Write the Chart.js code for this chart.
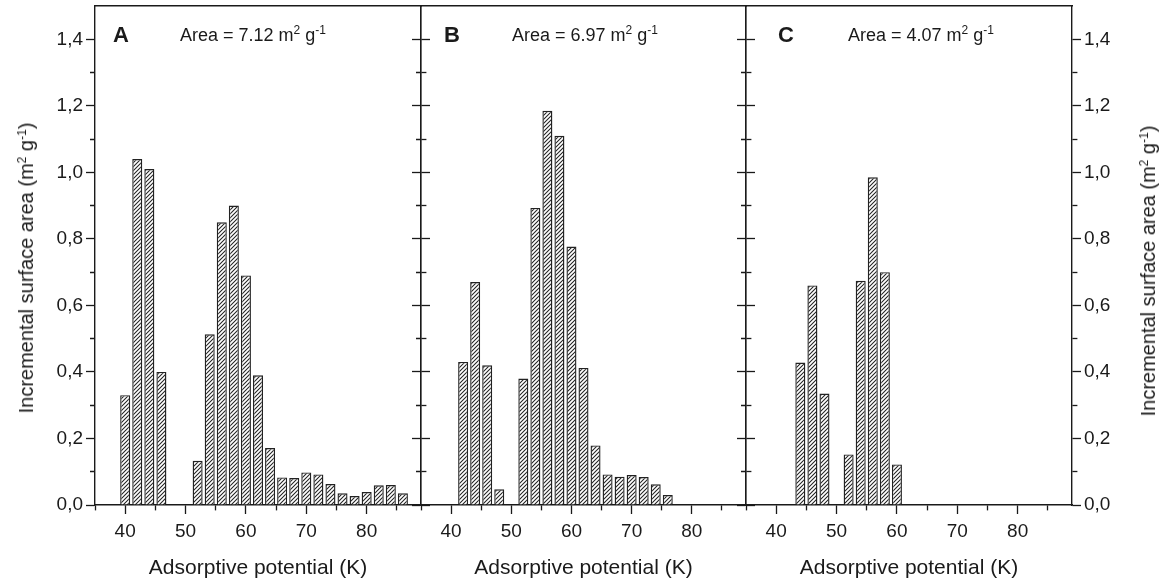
<!DOCTYPE html>
<html>
<head>
<meta charset="utf-8">
<script src="https://cdn.jsdelivr.net/npm/chart.js@4.4.1/dist/chart.umd.min.js"></script>
<style>
    body { margin: 0; background: #fff; width: 1166px; height: 583px; position: relative; overflow: hidden;
           font-family: "Liberation Sans", Arial, sans-serif; color: #1a1a1a; }
    canvas { position: absolute; top: 0; }
    .txt { position: absolute; white-space: nowrap; line-height: 1; }
    .panel { font-size: 22px; font-weight: bold; top: 24px; }
    .area { font-size: 18px; top: 26px; }
    .ytitle { font-size: 20px; transform: translate(-50%, -50%) rotate(-90deg); }
    sup { font-size: 12px; position: relative; top: -7px; vertical-align: baseline; line-height: 0; }
</style>
</head>
<body>
<canvas id="chartA" width="431" height="583" style="left:0px"></canvas>
<canvas id="chartB" width="345" height="583" style="left:411px"></canvas>
<canvas id="chartC" width="430" height="583" style="left:736px"></canvas>

<div class="txt panel" style="left:113px">A</div>
<div class="txt area" style="left:180px">Area = 7.12 m<sup>2</sup> g<sup>-1</sup></div>
<div class="txt panel" style="left:444px">B</div>
<div class="txt area" style="left:512px">Area = 6.97 m<sup>2</sup> g<sup>-1</sup></div>
<div class="txt panel" style="left:778px">C</div>
<div class="txt area" style="left:848px">Area = 4.07 m<sup>2</sup> g<sup>-1</sup></div>

<div class="txt ytitle" style="left:26px; top:268px">Incremental surface area (m<sup>2</sup> g<sup>-1</sup>)</div>
<div class="txt ytitle" style="left:1148px; top:271px">Incremental surface area (m<sup>2</sup> g<sup>-1</sup>)</div>

<script>
// ข้อมูล: ศักย์การดูดซับ (K) และพื้นที่ผิวที่เพิ่มขึ้น (m2/g)
const potentialA = [40, 42, 44, 46, 52, 54, 56, 58, 60, 62, 64, 66, 68, 70, 72, 74, 76, 78, 80, 82, 84, 86];
const areaA = [0.33, 1.04, 1.01, 0.40, 0.133, 0.513, 0.85, 0.90, 0.69, 0.39, 0.171, 0.083, 0.081, 0.098, 0.092, 0.063, 0.035, 0.027, 0.039, 0.059, 0.060, 0.035];

const potentialB = [42, 44, 46, 48, 52, 54, 56, 58, 60, 62, 64, 66, 68, 70, 72, 74, 76];
const areaB = [0.43, 0.67, 0.42, 0.047, 0.38, 0.893, 1.185, 1.11, 0.777, 0.412, 0.179, 0.092, 0.085, 0.090, 0.084, 0.062, 0.030];

const potentialC = [44, 46, 48, 52, 54, 56, 58, 60];
const areaC = [0.428, 0.66, 0.335, 0.152, 0.674, 0.985, 0.70, 0.122];

// ป้ายแกน
const xTickLabels = ['40', '50', '60', '70', '80'];
const yTickLabels = ['0,0', '0,2', '0,4', '0,6', '0,8', '1,0', '1,2', '1,4'];
const xTitle = 'Adsorptive potential (K)';

const ink = '#1a1a1a';
Chart.defaults.font.family = '"Liberation Sans", Arial, sans-serif';
Chart.defaults.color = ink;

// ลายเส้นทแยงสำหรับแท่ง
function hatchPattern() {
    const c = document.createElement('canvas');
    c.width = 4;
    c.height = 4;
    const g = c.getContext('2d');
    g.fillStyle = '#fff';
    g.fillRect(0, 0, 4, 4);
    g.strokeStyle = '#222';
    g.lineWidth = 1.05;
    g.beginPath();
    g.moveTo(0, 4); g.lineTo(4, 0);
    g.moveTo(-1, 1); g.lineTo(1, -1);
    g.moveTo(3, 5); g.lineTo(5, 3);
    g.stroke();
    return g.createPattern(c, 'repeat');
}
const hatch = hatchPattern();

function yLabel(value) {
    const k = Math.round(value * 10);
    if (k % 2 !== 0) return '';
    return yTickLabels[k / 2] || '';
}

function xLabel(value) {
    if (value % 10 !== 0) return '';
    return xTickLabels[(value - 40) / 10] || '';
}

function isMinorY(ctx) {
    return Math.round(ctx.tick.value * 10) % 2 !== 0;
}

function yAxis(side, showLabels, width) {
    return {
        type: 'linear',
        position: side,
        min: 0,
        max: 1.5,
        ticks: {
            stepSize: 0.1,
            autoSkip: false,
            display: showLabels,
            padding: 3,
            color: ink,
            font: { size: 19 },
            callback: yLabel
        },
        grid: {
            drawOnChartArea: false,
            drawTicks: true,
            tickLength: 9,
            tickWidth: 1.3,
            tickColor: ctx => ctx.tick.value > 1.45 ? 'rgba(0,0,0,0)' : ink,
            // ขีดย่อยสั้นกว่าขีดหลัก
            tickBorderDash: ctx => isMinorY(ctx) ? (side === 'left' ? [0, 4, 5, 40] : [5, 40]) : []
        },
        border: { display: true, color: ink, width: 1.4 },
        afterFit: scale => {
            scale.width = width;
            scale.paddingTop = 0;
            scale.paddingBottom = 0;
        }
    };
}

function xAxis() {
    return {
        type: 'linear',
        position: 'bottom',
        min: 35,
        max: 89,
        offset: false,
        ticks: {
            stepSize: 5,
            autoSkip: false,
            maxRotation: 0,
            includeBounds: false,
            padding: 6,
            color: ink,
            font: { size: 19 },
            callback: xLabel
        },
        grid: {
            offset: false,
            drawOnChartArea: false,
            tickLength: 9,
            tickWidth: 1.3,
            tickColor: ink,
            tickBorderDash: ctx => ctx.tick.value % 10 === 0 ? [] : [5, 40]
        },
        border: { display: true, color: ink, width: 1.4 },
        title: {
            display: true,
            text: xTitle,
            color: ink,
            font: { size: 21 },
            padding: { top: 0, bottom: 2 }
        },
        afterFit: scale => {
            scale.height = 78;
            scale.paddingLeft = 0;
            scale.paddingRight = 0;
        }
    };
}

function topAxis() {
    return {
        type: 'linear',
        position: 'top',
        min: 35,
        max: 89,
        ticks: { display: false },
        grid: { drawOnChartArea: false, drawTicks: false },
        border: { display: true, color: ink, width: 1.4 },
        afterFit: scale => { scale.height = 0; }
    };
}

function createPanel(id, potentials, areas, leftWidth, leftLabels, rightWidth, rightLabels) {
    const ctx = document.getElementById(id).getContext('2d');
    return new Chart(ctx, {
        type: 'bar',
        data: {
            datasets: [{
                data: potentials.map((p, i) => ({ x: p, y: areas[i] })),
                backgroundColor: hatch,
                borderColor: '#222',
                borderWidth: 1.4,
                barPercentage: 0.83,
                categoryPercentage: 1.0,
                xAxisID: 'x',
                yAxisID: 'y'
            }]
        },
        options: {
            responsive: false,
            animation: false,
            layout: { padding: { top: 6, left: 0, right: 0, bottom: 0 } },
            plugins: {
                legend: { display: false },
                tooltip: { enabled: false }
            },
            scales: {
                x: xAxis(),
                xTop: topAxis(),
                y: yAxis('left', leftLabels, leftWidth),
                yR: yAxis('right', rightLabels, rightWidth)
            }
        }
    });
}

createPanel('chartA', potentialA, areaA, 95, true, 10, false);
createPanel('chartB', potentialB, areaB, 10, false, 10, false);
createPanel('chartC', potentialC, areaC, 10, false, 94, true);
</script>
</body>
</html>
